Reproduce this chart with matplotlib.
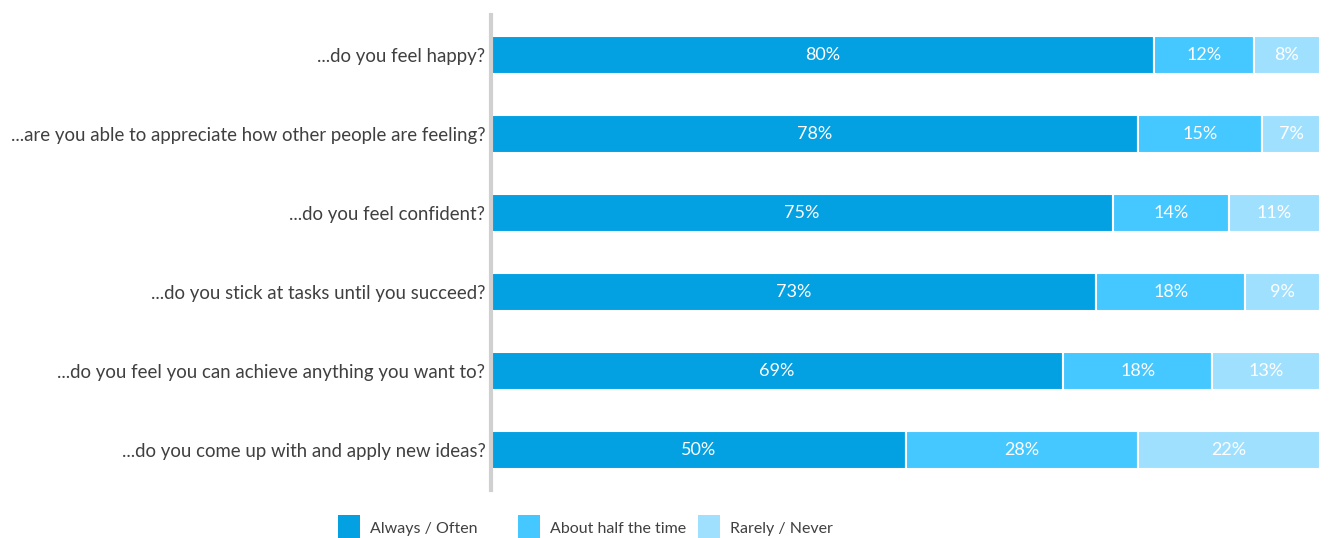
import matplotlib.pyplot as plt
import numpy as np
from matplotlib.patches import Rectangle

plt.rcParams['font.family'] = ['Lato', 'DejaVu Sans']

questions = [
    "...do you feel happy?",
    "...are you able to appreciate how other people are feeling?",
    "...do you feel confident?",
    "...do you stick at tasks until you succeed?",
    "...do you feel you can achieve anything you want to?",
    "...do you come up with and apply new ideas?",
]
always = [80, 78, 75, 73, 69, 50]
half = [12, 15, 14, 18, 18, 28]
rarely = [8, 7, 11, 9, 13, 22]

series = ["Always / Often", "About half the time", "Rarely / Never"]
colors = ["#03a0e2", "#45c7ff", "#a0e0ff"]

W, H = 1329, 538
fig = plt.figure(figsize=(W / 100, H / 100), dpi=100)
ax = fig.add_axes([491 / W, 1 - 490 / H, (1320 - 491) / W, 475 / H])

y = np.arange(len(questions))
left = np.zeros(len(questions))
for vals, col in zip([always, half, rarely], colors):
    vals = np.array(vals, dtype=float)
    bars = ax.barh(y, vals, left=left, height=0.48, color=col,
                   edgecolor="white", linewidth=1.5)
    for b, v in zip(bars, vals):
        ax.text(b.get_x() + b.get_width() / 2, b.get_y() + b.get_height() / 2,
                f"{int(v)}%", ha="center", va="center", color="white",
                fontsize=13)
    left += vals

ax.set_xlim(0, 100)
ax.set_ylim(len(questions) - 0.5, -0.5)
ax.set_yticks(y)
ax.set_yticklabels(questions, fontsize=13.4, color="#404040")
ax.tick_params(axis="y", length=0, pad=4)
ax.set_xticks([])
for s in ["top", "right", "bottom"]:
    ax.spines[s].set_visible(False)
ax.spines["left"].set_color("#d0d0d0")
ax.spines["left"].set_linewidth(3)

# legend: square swatches with labels, laid out in figure pixels
swatch_x = [338, 518, 698]
for sx, name, col in zip(swatch_x, series, colors):
    fig.patches.append(Rectangle((sx / W, 0), 22 / W, 23 / H,
                                 transform=fig.transFigure, facecolor=col,
                                 edgecolor="none"))
    fig.text((sx + 32) / W, 1 - 529 / H, name, ha="left", va="center",
             fontsize=11.5, color="#404040")

fig.savefig("out.png", dpi=100)
